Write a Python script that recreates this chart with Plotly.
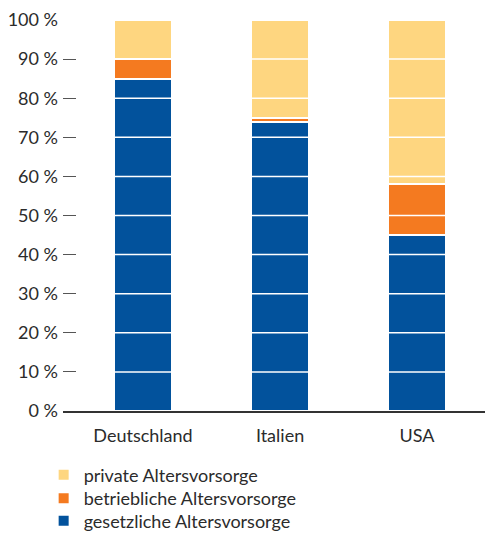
import plotly.graph_objects as go

# Anteile der Alterssicherungssysteme am Alterseinkommen (%)
laender = ["Deutschland", "Italien", "USA"]
gesetzlich = [85, 74, 45]
betrieblich = [5, 1, 13]
privat = [10, 25, 42]

y_ticks = [0, 10, 20, 30, 40, 50, 60, 70, 80, 90, 100]
y_labels = [f"{v} %" for v in y_ticks]

FONT = "Lato"
TEXT = "#2b2b2b"

# Reihenfolge der Legende: oben privat, unten gesetzlich
serien = [
    ("gesetzliche Altersvorsorge", gesetzlich, "#02529c", "legend3", 0.0607),
    ("betriebliche Altersvorsorge", betrieblich, "#f47a20", "legend2", 0.1028),
    ("private Altersvorsorge", privat, "#fed680", "legend", 0.1467),
]

fig = go.Figure()
legend_layout = {}
for name, werte, farbe, leg, ypos in serien:
    fig.add_trace(go.Bar(
        x=laender, y=werte, name=name, legend=leg,
        marker=dict(color=farbe, line=dict(color="white", width=2)),
        width=0.42,
    ))
    legend_layout[leg] = dict(
        xref="container", x=0.09, xanchor="left",
        yref="container", y=ypos, yanchor="top",
        font=dict(family=FONT, size=18, color=TEXT),
        itemwidth=30, bgcolor="rgba(0,0,0,0)",
    )

# weiße Rasterlinien über den Balken
for v in y_ticks[1:-1]:
    fig.add_shape(type="line", xref="paper", x0=0.036, x1=1, yref="y", y0=v, y1=v,
                  line=dict(color="white", width=1.5), layer="above")

fig.update_layout(
    width=485, height=535,
    barmode="stack",
    plot_bgcolor="white", paper_bgcolor="white",
    margin=dict(l=63, r=0, t=20, b=124, autoexpand=False),
    font=dict(family=FONT, size=18, color=TEXT),
    showlegend=True,
    **legend_layout,
    xaxis=dict(
        range=[-0.584, 2.496],
        showline=True, linecolor="#333333", linewidth=1.5,
        showgrid=False, ticks="", ticklabelstandoff=8,
        tickfont=dict(family=FONT, size=18, color=TEXT),
    ),
    yaxis=dict(
        range=[0, 100],
        tickvals=y_ticks, ticktext=y_labels,
        showgrid=False, zeroline=False, showline=False,
        ticks="inside", ticklen=13, tickcolor="#555555", tickwidth=1.2,
        ticklabelstandoff=4,
        tickfont=dict(family=FONT, size=18, color=TEXT),
    ),
)

fig.write_html("out.html")
